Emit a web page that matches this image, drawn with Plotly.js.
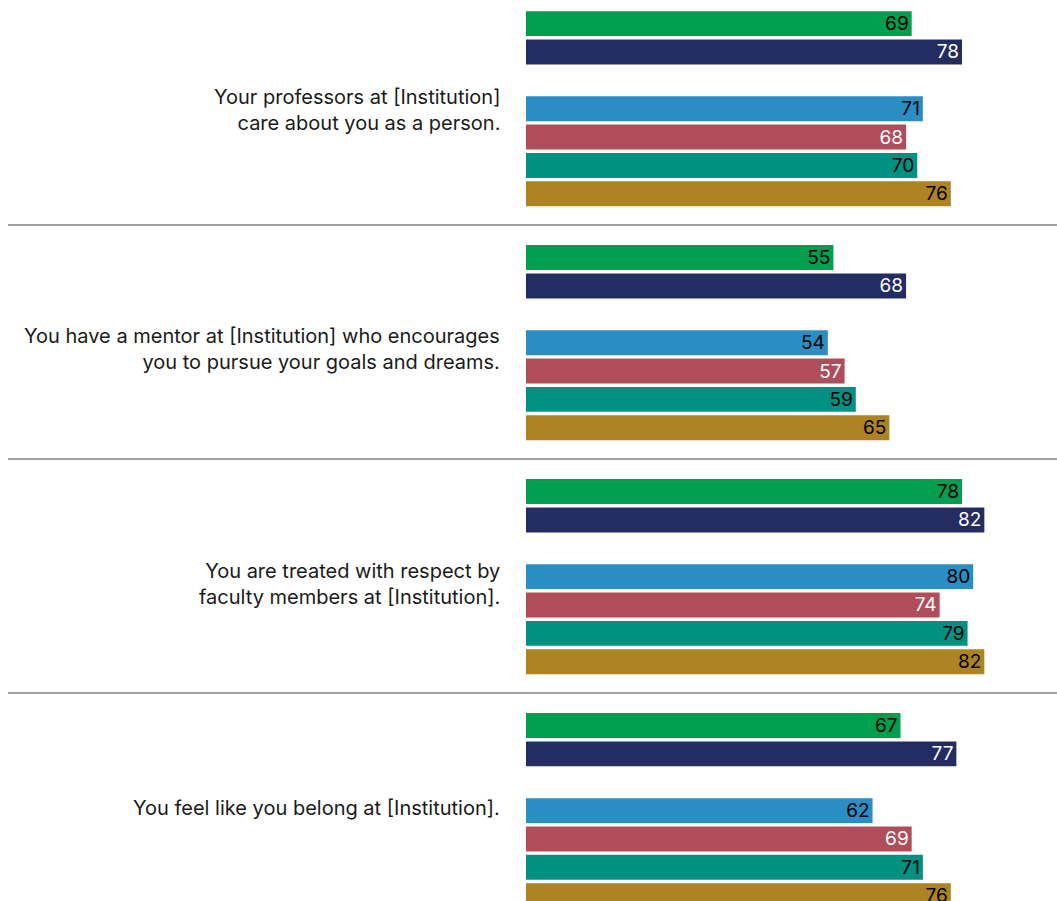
<!DOCTYPE html>
<html>
<head>
<meta charset="utf-8">
<script src="https://cdn.plot.ly/plotly-3.0.1.min.js"></script>
<style>
  html, body { margin: 0; padding: 0; background: #ffffff; }
  #chart { width: 1057px; height: 901px; }
</style>
</head>
<body>
<div id="chart"></div>
<script>
// ---- Data ----
const questions = [
  "Your professors at [Institution]<br>care about you as a person.",
  "You have a mentor at [Institution] who encourages<br>you to pursue your goals and dreams.",
  "You are treated with respect by<br>faculty members at [Institution].",
  "You feel like you belong at [Institution]."
];
const seriesNames = ["Series 1", "Series 2", "Series 3", "Series 4", "Series 5", "Series 6"];
const series1 = [69, 55, 78, 67];
const series2 = [78, 68, 82, 77];
const series3 = [71, 54, 80, 62];
const series4 = [68, 57, 74, 69];
const series5 = [70, 59, 79, 71];
const series6 = [76, 65, 82, 76];
const allSeries = [series1, series2, series3, series4, series5, series6];

// ---- Styles ----
const barColors = ["#009E4F", "#232C63", "#2A8DC3", "#B04D5B", "#009183", "#AE8322"];
const textColors = ["#000000", "#ffffff", "#000000", "#ffffff", "#000000", "#000000"];
const slotIndex = [0, 1, 3, 4, 5, 6];
const groupSize = 8.25;
const slotOffset = 1.15;
const labelOffsets = [4.2, 4.39, 4.41, 4.06];

const fontFam = "Inter, 'Noto Sans', sans-serif";

const traces = allSeries.map((vals, s) => ({
  type: "bar",
  orientation: "h",
  name: seriesNames[s],
  x: vals,
  y: vals.map((v, g) => g * groupSize + slotOffset + slotIndex[s]),
  width: 0.88,
  marker: { color: barColors[s], line: { width: 0 } },
  text: vals.map(v => String(v)),
  textposition: "inside",
  insidetextanchor: "end",
  textangle: 0,
  constraintext: "none",
  textfont: { family: fontFam, size: 19, color: textColors[s] },
  cliponaxis: false,
  hoverinfo: "x",
  showlegend: false
}));

const shapes = [1, 2, 3].map(g => ({
  type: "line",
  xref: "paper", yref: "y",
  x0: (8 - 526) / 531, x1: 1,
  y0: g * groupSize, y1: g * groupSize,
  line: { color: "#7f7f7f", width: 1.5 }
}));

const annotations = questions.map((q, g) => ({
  xref: "x", yref: "y",
  x: 0, y: g * groupSize + labelOffsets[g],
  text: q,
  showarrow: false,
  xanchor: "right", yanchor: "middle",
  align: "right",
  xshift: -24,
  font: { family: fontFam, size: 20, color: "#1a1a1a" }
}));

const layout = {
  width: 1057, height: 901,
  margin: { l: 526, r: 0, t: 0, b: 0, pad: 0 },
  paper_bgcolor: "#ffffff",
  plot_bgcolor: "#ffffff",
  barmode: "overlay",
  xaxis: { range: [0, 95], visible: false, fixedrange: true },
  yaxis: { range: [(901 + 9) / 28.36, 9 / 28.36], visible: false, fixedrange: true },
  shapes: shapes,
  annotations: annotations,
  uniformtext: { mode: false }
};

Plotly.newPlot("chart", traces, layout, { displayModeBar: false, staticPlot: true });
</script>
</body>
</html>
